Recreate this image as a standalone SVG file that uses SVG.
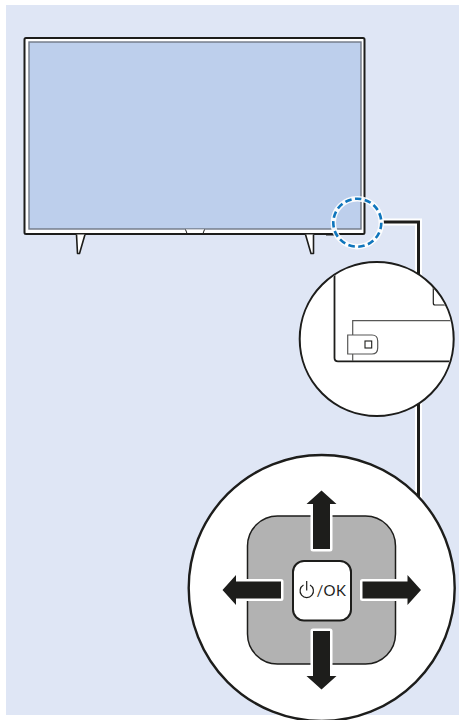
<svg xmlns="http://www.w3.org/2000/svg" width="459" height="720" viewBox="0 0 459 720">
<style>
.k{fill:none;stroke:#1d1d1b}
.halo{fill:none;stroke:#fff}
.arrow{fill:#1d1d1b;stroke:#fff;stroke-width:5;paint-order:stroke;stroke-linejoin:round}
.thin{fill:none;stroke:#575756;stroke-width:1.2}
</style>
<defs>
<clipPath id="zoomClip"><circle cx="376.7" cy="339" r="76"/></clipPath>
<path id="arr" d="M0 -58.500L15 -45H8.500V0H-8.500V-45H-15Z"/>
</defs>
<rect id="panel" x="6" y="5" width="453" height="710" fill="#dfe6f5"/>
<g id="tv">
<rect x="24.500" y="38" width="340" height="196" rx="1.500" fill="#fff" stroke="#1d1d1b" stroke-width="2"/>
<rect x="29" y="42" width="332" height="187" fill="#bdcfec" stroke="#6f7785" stroke-width="1.400"/>
<path d="M185.500 229.500L187 233.500H203L204.500 229.500" fill="#fff" stroke="#1d1d1b" stroke-width="1"/>
<path d="M76.500 234.500L77.500 253.500H79.500L85 234.500" fill="#fff" stroke="#1d1d1b" stroke-width="1.600" stroke-linejoin="round"/>
<path d="M305.500 234.500L311 253.500H313.500V234.500" fill="#fff" stroke="#1d1d1b" stroke-width="1.600" stroke-linejoin="round"/>
<path d="M326 234.500H340" class="k" stroke-width="2"/>
</g>
<g id="connectors">
<path d="M383 222H418.500V505" class="halo" stroke-width="7"/>
<path d="M383 222H418.500V505" class="k" stroke-width="3"/>
</g>
<g id="marker-circle">
<circle cx="357.300" cy="222.700" r="24" fill="none" stroke="#fff" stroke-width="5.500" opacity=".9"/>
<circle cx="357.300" cy="222.700" r="24" fill="none" stroke="#0f75bc" stroke-width="2.600" stroke-dasharray="6.500 3.500"/>
</g>
<g id="detail-circle">
<circle cx="376.700" cy="339" r="77" fill="#fff" stroke="#1d1d1b" stroke-width="2"/>
<g clip-path="url(#zoomClip)">
<path d="M334.500 270V358Q334.500 361.300 338 361.300H460" class="k" stroke-width="1.800"/>
<path d="M433.300 280V303Q433.300 305 435 305H460" class="k" stroke-width="1.200"/>
<path d="M352.700 361V320.700H460" class="thin"/>
<path d="M347.700 335H372Q377.700 335 377.700 341V348Q377.700 354 372 354H347.700Z" fill="#fff" stroke="#575756" stroke-width="1.200"/>
<rect x="365" y="341" width="6.700" height="7" fill="#fff" stroke="#1d1d1b" stroke-width="1.100"/>
</g>
</g>
<g id="keypad-circle">
<circle cx="321.700" cy="588" r="133" fill="#fff" stroke="#1d1d1b" stroke-width="2.400"/>
</g>
<g id="keypad">
<rect x="247.500" y="516" width="148" height="148" rx="30" fill="#b2b2b2" stroke="#1d1d1b" stroke-width="1.500"/>
<use href="#arr" class="arrow" transform="translate(321.500 549)"/>
<use href="#arr" class="arrow" transform="translate(321.500 631) rotate(180)"/>
<use href="#arr" class="arrow" transform="translate(281 590) rotate(-90)"/>
<use href="#arr" class="arrow" transform="translate(362.500 590) rotate(90)"/>
<rect x="293" y="561" width="58" height="59.500" rx="11" fill="#fff" stroke="#1d1d1b" stroke-width="2"/>
<path d="M303.500 585A6.700 6.700 0 1 0 310 585M306.700 581V590.500" fill="none" stroke="#1d1d1b" stroke-width="1.200"/>
<text x="316.500" y="595.500" font-family="Lato,'Liberation Sans',sans-serif" font-size="15" fill="#1d1d1b" textLength="29.500">/OK</text>
</g>
</svg>
